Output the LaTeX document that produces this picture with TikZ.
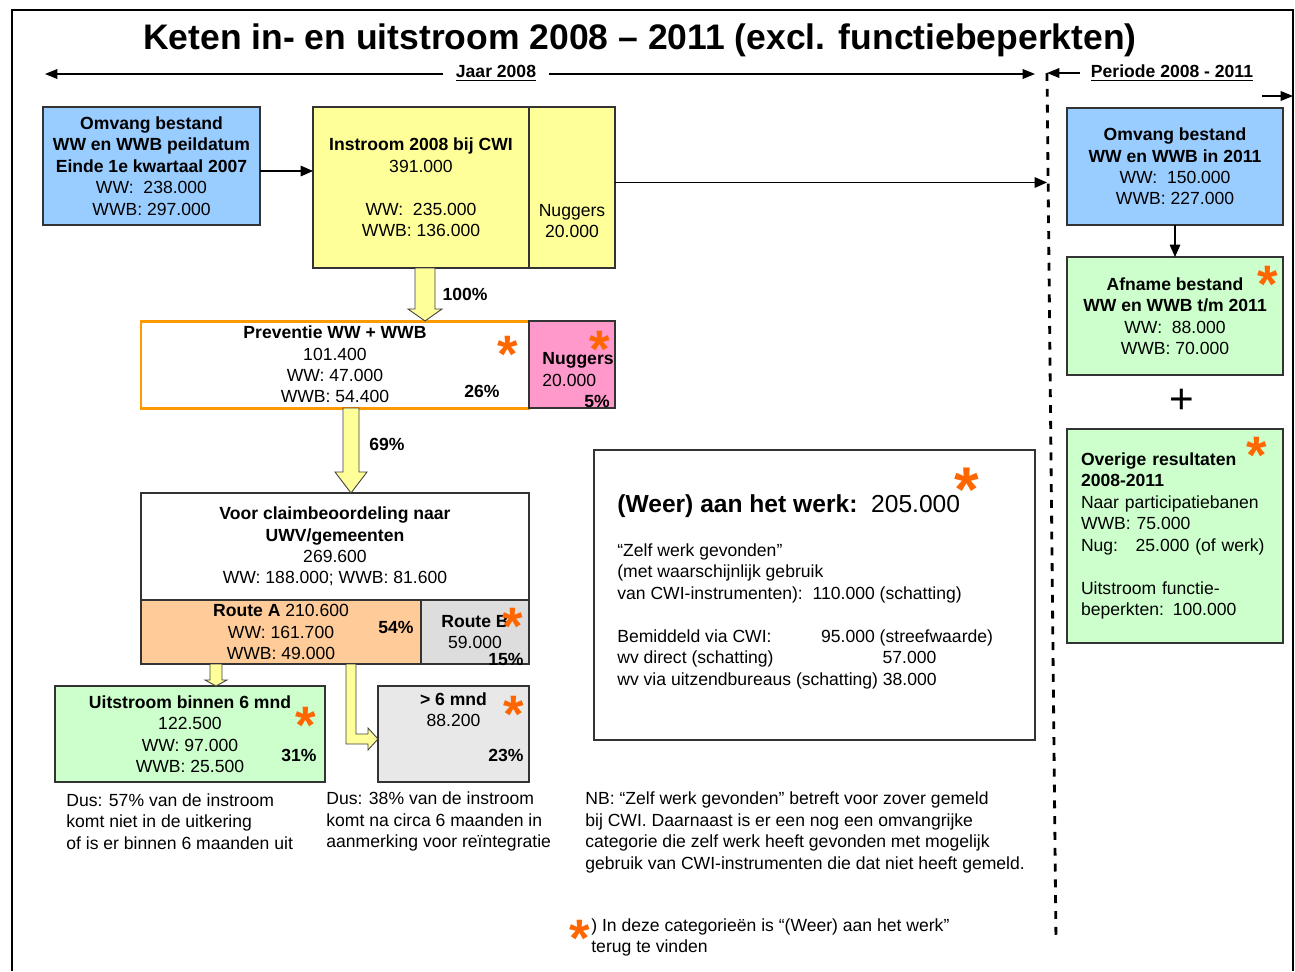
\documentclass[tikz,border=0pt]{standalone}
\usepackage{fontspec}
\setmainfont{Liberation Sans}
\usetikzlibrary{positioning,arrows.meta,calc}
\definecolor{bluebox}{HTML}{99CCFF}
\definecolor{yellowbox}{HTML}{FFFF99}
\definecolor{pinkbox}{HTML}{FF99CC}
\definecolor{peachbox}{HTML}{FFCC99}
\definecolor{greenbox}{HTML}{CCFFCC}
\definecolor{greybox}{HTML}{DDDDDD}
\definecolor{lightgreybox}{HTML}{E8E8E8}
\definecolor{orangeline}{HTML}{FF9900}
\definecolor{starorange}{HTML}{FF6600}
\newcommand{\pxu}{0.02cm}

\begin{document}
\begin{tikzpicture}[
  x=0.02cm, y=-0.02cm,
  font=\fontsize{10}{12.2}\selectfont,
  box/.style={
    draw=black!80,
    line width=0.6pt,
    align=center,
    inner sep=0pt,
    outer sep=0pt
  },
  boxsize/.style 2 args={minimum width=#1*\pxu, minimum height=#2*\pxu},
  note/.style={inner sep=0pt, align=left, anchor=west},
  pct/.style={inner sep=0pt, font=\fontsize{10}{12.2}\selectfont\bfseries},
  astx/.style={inner sep=0pt, anchor=north, text=starorange,
    font=\fontsize{30}{30}\selectfont\bfseries},
  conn/.style={-{Triangle[length=7pt,width=6pt]}, line width=0.7pt},
  hdr/.style={line width=0.7pt},
  lbl/.style={inner ysep=0pt, fill=white, font=\fontsize{10}{12.2}\selectfont\bfseries},
  blockarr/.style={draw=black!75, line width=0.5pt, fill=yellowbox},
  pageframe/.style={line width=1.2pt},
  divider/.style={line width=1.6pt, dash pattern=on 4.5pt off 4.5pt}
]
\useasboundingbox (0,0) rectangle (1295,971);

% --------------------
% Frame and header
% --------------------
\coordinate (fbl) at (12,971);
\coordinate (ftl) at (12,10);
\coordinate (ftr) at (1293,10);
\coordinate (fbr) at (1293,971);
\draw[pageframe] (fbl) -- (ftl) -- (ftr) -- (fbr);

\node[inner sep=0pt, font=\fontsize{20.2}{24}\selectfont\bfseries] (title) at (640,40)
{Keten in- en uitstroom 2008 – 2011 (excl. functiebeperkten)};

\coordinate (jl) at (45,74);
\coordinate (jr) at (1035,74);
\coordinate (dtop) at (1047,73);
\coordinate (dbot) at (1056,942);
\coordinate (rgo) at (1262,96);

\draw[hdr, {Triangle[length=7pt,width=5.5pt]}-{Triangle[length=7pt,width=5.5pt]}] (jl) -- (jr);
\node[lbl, inner xsep=13*\pxu] (jaar) at (496,73) {\underline{Jaar 2008}};
\node[lbl, inner xsep=11*\pxu] (periode) at (1172,73) {\underline{Periode 2008 - 2011}};
\draw[hdr, -{Triangle[length=7pt,width=5.5pt]}] (periode.west) -- (periode.west -| dtop);
\draw[hdr, -{Triangle[length=7pt,width=5.5pt]}] (rgo) -- (rgo -| ftr);
\draw[divider] (dtop) -- (dbot);

% --------------------
% Jaar 2008
% --------------------
\node[box, fill=bluebox, boxsize={217}{118}] (omv07) at (151.5,166)
{\textbf{Omvang bestand}\\\textbf{WW en WWB peildatum}\\\textbf{Einde 1e kwartaal 2007}\\WW:\ \ 238.000\\WWB: 297.000};

\node[box, fill=yellowbox, boxsize={216}{161}] (instr) at (421,187.5)
{\textbf{Instroom 2008 bij CWI}\\391.000\\\strut\\WW:\ \ 235.000\\WWB: 136.000};
\node[box, fill=yellowbox, boxsize={86}{161}, right=0pt of instr] (nug1)
{\strut\\\strut\\\strut\\Nuggers\\20.000};

\node[box, draw=orangeline, line width=1.7pt, boxsize={388}{87}] (prev) at (335,364.5)
{\textbf{Preventie WW + WWB}\\101.400\\WW: 47.000\\WWB: 54.400};
\node[box, fill=pinkbox, boxsize={86}{87}, right=0pt of prev] (nug2) {};
\node[note] (nug2txt) at (542,369.5) {\textbf{Nuggers}\\20.000};

\node[box, boxsize={388}{107}] (claim) at (335,546.5)
{\textbf{Voor claimbeoordeling naar}\\\textbf{UWV/gemeenten}\\269.600\\WW: 188.000; WWB: 81.600};
\node[box, fill=peachbox, boxsize={280}{64}, below right=0pt of claim.south west] (routeA)
{\textbf{Route A} 210.600\\WW: 161.700\\WWB: 49.000};
\node[box, fill=greybox, boxsize={108}{64}, right=0pt of routeA] (routeB)
{\textbf{Route B}\\59.000};

\node[box, fill=greenbox, boxsize={270}{96}] (uitstr) at (190,734)
{\textbf{Uitstroom binnen 6 mnd}\\122.500\\WW: 97.000\\WWB: 25.500};
\node[box, fill=lightgreybox, boxsize={151}{96}] (zesmnd) at (453.5,734)
{\textbf{> 6 mnd}\\88.200\\\strut\\\strut};

\node[box, boxsize={441}{290}] (werk) at (814.5,595) {};
\node[note, anchor=north west] (werktxt) at (617,494)
{{\fontsize{14}{17}\selectfont\textbf{(Weer) aan het werk:}\ \ 205.000}\\[13pt]
“Zelf werk gevonden”\\(met waarschijnlijk gebruik\\van CWI-instrumenten):\ \ 110.000 (schatting)\\[12.2pt]
\makebox[116pt][l]{Bemiddeld via CWI:}95.000 (streefwaarde)\\
\makebox[151pt][l]{wv direct (schatting)}57.000\\
wv via uitzendbureaus (schatting) 38.000};

% --------------------
% Periode 2008 - 2011
% --------------------
\node[box, fill=bluebox, boxsize={216}{117}] (omv11) at (1175,166.5)
{\textbf{Omvang bestand}\\\textbf{WW en WWB in 2011}\\WW:\ \ 150.000\\WWB: 227.000};
\node[box, fill=greenbox, boxsize={216}{118}, below=0.64cm of omv11] (afname)
{\textbf{Afname bestand}\\\textbf{WW en WWB t/m 2011}\\WW:\ \ 88.000\\WWB: 70.000};
\node[inner sep=0pt, font=\fontsize{24}{24}\selectfont] (plus) at (1182,401) {+};
\node[box, fill=greenbox, boxsize={216}{214}, text width=188*\pxu, inner xsep=14*\pxu, align=left] (overig) at (1175,536)
{\textbf{Overige resultaten}\\\textbf{2008-2011}\\Naar participatiebanen\\WWB: 75.000\\Nug:\ \ \ 25.000 (of werk)\\[12.2pt]Uitstroom functie-\\beperkten: 100.000};

% --------------------
% Arrows
% --------------------
\draw[conn] ([yshift=-5*\pxu]omv07.east) -- ([yshift=-5*\pxu]omv07.east -| instr.west);
\draw[conn] ([yshift=5*\pxu]nug1.east) -- ([yshift=5*\pxu]nug1.east -| dtop);
\draw[conn] (omv11) -- (afname);

\filldraw[blockarr] let \p1=([xshift=4*\pxu]instr.south), \p2=(prev.north) in
  (\x1-10*\pxu,\y1) -- (\x1-10*\pxu,\y2+12*\pxu) -- (\x1-17*\pxu,\y2+12*\pxu) -- (\x1,\y2)
  -- (\x1+17*\pxu,\y2+12*\pxu) -- (\x1+10*\pxu,\y2+12*\pxu) -- (\x1+10*\pxu,\y1) -- cycle;
\filldraw[blockarr] let \p1=([xshift=16*\pxu]prev.south), \p2=(claim.north) in
  (\x1-8*\pxu,\y1) -- (\x1-8*\pxu,\y2+21*\pxu) -- (\x1-16*\pxu,\y2+21*\pxu) -- (\x1,\y2)
  -- (\x1+16*\pxu,\y2+21*\pxu) -- (\x1+8*\pxu,\y2+21*\pxu) -- (\x1+8*\pxu,\y1) -- cycle;
\filldraw[blockarr] let \p1=([xshift=-65*\pxu]routeA.south), \p2=(uitstr.north) in
  (\x1-6*\pxu,\y1) -- (\x1-6*\pxu,\y2+6*\pxu) -- (\x1-11*\pxu,\y2+6*\pxu) -- (\x1,\y2)
  -- (\x1+11*\pxu,\y2+6*\pxu) -- (\x1+6*\pxu,\y2+6*\pxu) -- (\x1+6*\pxu,\y1) -- cycle;
\filldraw[blockarr] let \p1=([xshift=70*\pxu]routeA.south), \p2=([yshift=-5*\pxu]zesmnd.west) in
  (\x1-5*\pxu,\y1) -- (\x1-5*\pxu,\y2-5*\pxu) -- (\x2-10*\pxu,\y2-5*\pxu) -- (\x2-10*\pxu,\y2-11*\pxu)
  -- (\x2,\y2) -- (\x2-10*\pxu,\y2+11*\pxu) -- (\x2-10*\pxu,\y2+5*\pxu) -- (\x1+5*\pxu,\y2+5*\pxu)
  -- (\x1+5*\pxu,\y1) -- cycle;

% --------------------
% Percentages
% --------------------
\node[pct] (pct100) at (465,294) {100\%};
\node[pct] (pct26) at (482,391) {26\%};
\node[pct] (pct5) at (597,401) {5\%};
\node[pct] (pct69) at (387,444) {69\%};
\node[pct] (pct54) at (396,627) {54\%};
\node[pct] (pct15) at (506,659) {15\%};
\node[pct] (pct31) at (299,755) {31\%};
\node[pct] (pct23) at (506,755) {23\%};

% --------------------
% Stars
% --------------------
\node[astx] (st1) at (508,336) {*};
\node[astx] (st2) at (600,331) {*};
\node[astx] (st3) at (513,608) {*};
\node[astx] (st4) at (306,707) {*};
\node[astx] (st5) at (514,696) {*};
\node[astx, font=\fontsize{36}{36}\selectfont\bfseries] (st6) at (967,468) {*};
\node[astx] (st7) at (1268,266) {*};
\node[astx] (st8) at (1257,437) {*};
\node[astx] (st9) at (580,920) {*};

% --------------------
% Notes
% --------------------
\node[note] (dus1) at (66,821.5)
{Dus: 57\% van de instroom\\komt niet in de uitkering\\of is er binnen 6 maanden uit};
\node[note] (dus2) at (326,821.5)
{Dus: 38\% van de instroom\\komt na circa 6 maanden in\\aanmerking voor reïntegratie};
\node[note] (nb) at (585,832.5)
{NB: “Zelf werk gevonden” betreft voor zover gemeld\\bij CWI. Daarnaast is er een nog een omvangrijke\\categorie die zelf werk heeft gevonden met mogelijk\\gebruik van CWI-instrumenten die dat niet heeft gemeld.};
\node[note] (foot) at (591,937.5)
{) In deze categorieën is “(Weer) aan het werk”\\terug te vinden};

\end{tikzpicture}
\end{document}
